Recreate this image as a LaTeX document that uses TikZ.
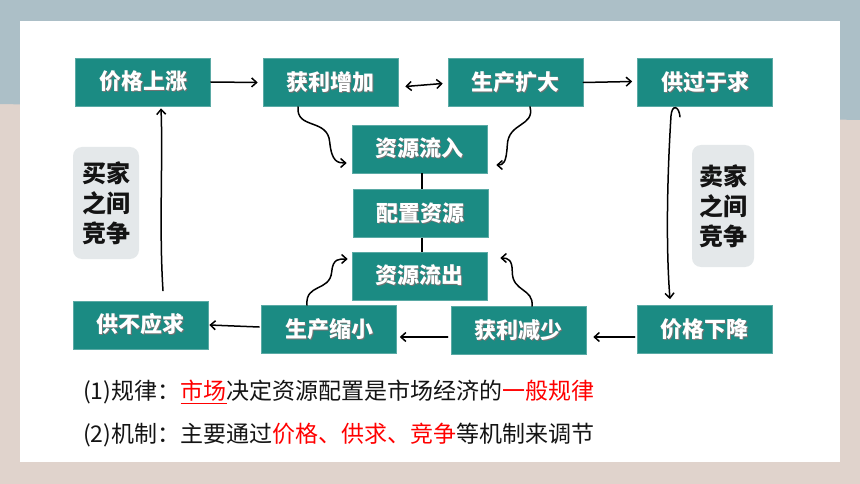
\documentclass[tikz,border=0pt]{standalone}
\usepackage{fontspec}
\setmainfont{Noto Sans CJK SC}
\usetikzlibrary{arrows.meta,calc}
\definecolor{tealbox}{RGB}{27,139,131}
\definecolor{tealedge}{RGB}{90,170,165}
\definecolor{graybox}{RGB}{228,232,234}
\definecolor{bgblue}{RGB}{172,191,199}
\definecolor{bgbeige}{RGB}{224,211,204}
\definecolor{inkblack}{RGB}{20,20,20}
\newcommand{\shtext}[1]{\makebox[0pt][l]{\hspace{1.1pt}\raisebox{-1.1pt}{\color{black!55}#1}}#1}
\begin{document}
\begin{tikzpicture}[x=1pt,y=-1pt,
  box/.style={fill=tealbox, draw=tealedge, line width=0.6pt, minimum width=135pt, minimum height=48pt, inner sep=0pt, text=white, font=\fontsize{22}{26}\selectfont\bfseries},
  gbox/.style={fill=graybox, rounded corners=9pt, inner sep=0pt, align=center, text=inkblack, font=\fontsize{24}{30}\selectfont\bfseries},
  hand/.style={line width=1.5pt, line cap=round, -{Straight Barb[length=5pt,width=9pt]}},
  handboth/.style={line width=1.5pt, line cap=round, {Straight Barb[length=5pt,width=9pt]}-{Straight Barb[length=5pt,width=9pt]}},
  plainline/.style={line width=1.5pt},
  bodytext/.style={anchor=west, inner sep=0pt, text=inkblack, font=\fontsize{23}{28}\selectfont}
]
\useasboundingbox (0,0) rectangle (860,484);
\fill[bgbeige] (0,0) rectangle (860,484);
\fill[bgblue] (0,0) -- (860,0) -- (860,120) -- (0,104) -- cycle;
\fill[white] (20,21) rectangle (840,462);

% top row
\node[box] (pup) at (143,82) {\shtext{价格上涨}};
\node[box] (gain) at (330.5,82.5) {\shtext{获利增加}};
\node[box] (expand) at (515.5,82.5) {\shtext{生产扩大}};
\node[box] (over) at (705,82.5) {\shtext{供过于求}};
% center column
\node[box] (in) at (419.5,149) {\shtext{资源流入}};
\node[box] (alloc) at (420.5,213.5) {\shtext{配置资源}};
\node[box] (out) at (419.5,276) {\shtext{资源流出}};
% bottom row
\node[box] (short) at (140.5,325) {\shtext{供不应求}};
\node[box] (shrink) at (329,329.5) {\shtext{生产缩小}};
\node[box] (loss) at (518.5,330.5) {\shtext{获利减少}};
\node[box] (pdown) at (704.5,329.5) {\shtext{价格下降}};
% gray side boxes
\node[gbox, minimum width=66pt, minimum height=112pt] (buyers) at (106,203) {买家\\之间\\竞争};
\node[gbox, minimum width=62pt, minimum height=122pt] (sellers) at (723,206) {卖家\\之间\\竞争};

% top row arrows
\draw[hand] (pup.east) -- ($(gain.west)+(-5,0)$);
\draw[handboth] ($(gain.east)+(7,4)$) -- ($(expand.west)+(-5,1)$);
\draw[hand] (expand.east) -- ($(over.west)+(-5,-1)$);
% wavy arrows into the centre
\draw[hand] ($(gain.south)+(-32.5,0)$) .. controls +(-2,23) and +(-2,-24) .. ($(in.west)+(-22,-7)$)
  .. controls +(2,20) and +(-9,0) .. ($(in.west)+(-5,14)$);
\draw[hand] ($(expand.south)+(14.5,0)$) .. controls +(5,20) and +(1,-23) .. ($(in.east)+(20,-4)$)
  .. controls +(-1,18) and +(7,0) .. ($(in.east)+(9,16)$);
\draw[hand] ($(shrink.north)+(-22,0)$) .. controls +(-2,-22) and +(-2,20) .. ($(out.west)+(-20,-4)$)
  .. controls +(1,-14) and +(-8,0) .. ($(out.west)+(-4,-17)$);
\draw[hand] ($(loss.north)+(13.5,0)$) .. controls +(2,-18) and +(0,20) .. ($(out.east)+(25,-4)$)
  .. controls +(0,-12) and +(8,0) .. ($(out.east)+(13,-18)$);
% centre links
\draw[plainline] ($(in.south)+(2.5,0)$) -- ($(alloc.north)+(1.5,0)$);
\draw[plainline] ($(alloc.south)+(1.5,0)$) -- ($(out.north)+(2.5,0)$);
% side verticals
\draw[hand] ($(over.south)+(-25,10)$) .. controls +(-1,-11) and +(1,-12) .. ($(over.south)+(-34,9)$)
  .. controls +(-4,64) and +(-4,-50) .. ($(pdown.north)+(-34.5,-6)$);
\draw[hand] ($(short.north)+(22.5,-10)$) .. controls +(-4,-61) and +(2,52) .. ($(pup.south)+(18,2)$);
% bottom row arrows
\draw[hand] ($(pdown.west)+(-2,7.5)$) -- ($(loss.east)+(7,6.5)$);
\draw[hand] ($(loss.west)+(-3,6.5)$) -- ($(shrink.east)+(3,7.5)$);
\draw[hand] ($(shrink.west)+(-2,-2.5)$) -- ($(short.east)+(1,0)$);

% text lines
\node[bodytext] (law) at (83,392) {(1)规律：{\color{red}\underline{市场}}决定资源配置是市场经济的{\color{red}一般规律}};
\node[bodytext] (mech) at (83,435) {(2)机制：主要通过{\color{red}价格、供求、竞争}等机制来调节};
\end{tikzpicture}
\end{document}
